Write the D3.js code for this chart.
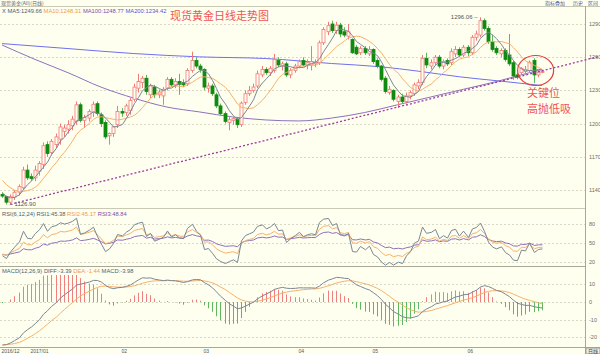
<!DOCTYPE html>
<html>
<head>
<meta charset="utf-8">
<script src="https://cdn.jsdelivr.net/npm/d3@7"></script>
<style>
  body { margin: 0; background: #fffff0; }
  svg { display: block; font-family: "Liberation Sans", "DejaVu Sans", sans-serif; }
</style>
</head>
<body>
<svg id="chart" width="600" height="354"></svg>
<script>
// ---- daily candles (index 0 = first visible day) ----
const openP = [1136,1134,1129,1133.5,1138,1142,1158,1152,1151,1157,
  1163,1181,1174,1181,1186,1193,1195,1198,1202,1217,
  1203,1205,1210,1218,1208,1201,1189,1191,1199,1211,
  1210,1212,1222,1232,1237,1241,1226,1233,1226,1225,
  1232,1240,1235,1238,1237,1236,1248,1257,1252,1249,
  1232,1234,1226,1216,1209,1201,1203,1204,1199,1219,
  1227,1230,1234,1244,1249,1246,1248,1257,1252,1254,
  1244,1248,1252,1257,1253,1253,1254,1255,1273,1283,
  1290,1284,1289,1283,1279,1276,1269,1264,1268,1263,
  1267,1257,1252,1241,1228,1230,1220,1224,1220,1225,
  1227,1234,1237,1259,1252,1255,1260,1252,1257,1255,
  1263,1267,1262,1269,1264,1278,1280,1293,1286,1274,
  1268,1263,1266,1262,1255,1244,1246,1247,1248,1257,
  1244,1246.8];
const highP = [1138,1135,1136,1140,1145,1161,1163,1155,1162,1166,
  1183,1184,1186,1191,1200,1199,1203,1207,1220,1219,
  1208,1213,1220,1220,1210,1203,1192,1198,1216,1214,
  1218,1223,1236,1245,1243,1244,1236,1235,1231,1233,
  1242,1242,1241,1245,1240,1250,1265,1260,1254,1250,
  1237,1236,1228,1218,1211,1207,1206,1205,1220,1230,
  1234,1236,1248,1252,1251,1252,1263,1260,1256,1256,
  1250,1254,1258,1260,1258,1270,1258,1275,1287,1292,
  1293,1292,1291,1287,1290,1277,1271,1270,1270,1270,
  1268,1259,1253,1243,1234,1231,1226,1227,1228,1230,
  1237,1240,1262,1264,1258,1262,1262,1258,1259,1268,
  1270,1269,1271,1271,1280,1284,1296.06,1295,1288,1280,
  1270,1268,1268,1281,1257,1246,1251,1252,1257,1259,
  1248,1248];
const lowP = [1133,1126.9,1127.5,1131,1135,1140,1149,1148,1148,1153,
  1159,1170,1172,1178,1181,1188,1191,1194,1199,1201,
  1196,1202,1206,1207,1197,1186,1181,1188,1196,1206,
  1207,1208,1220,1228,1232,1226,1223,1223,1223,1217,
  1230,1233,1232,1226,1233,1234,1246,1250,1246,1230,
  1228,1225,1214,1207,1200,1194,1199,1196,1197,1217,
  1225,1228,1232,1242,1244,1243,1246,1251,1248,1242,
  1241,1246,1250,1252,1249,1248,1251,1253,1271,1280,
  1282,1281,1278,1278,1276,1263,1262,1262,1262,1261,
  1254,1250,1238,1227,1226,1220,1214,1218,1218,1222,
  1225,1231,1235,1250,1249,1253,1250,1249,1252,1253,
  1260,1260,1260,1261,1262,1275,1278,1284,1272,1265,
  1262,1260,1256,1252,1239.6,1240,1244,1244,1246,1236.6,
  1242,1245.5];
const closeP = [1134.5,1129,1134,1138,1143,1158,1151,1150.5,1158,1164,
  1180,1173,1184,1188,1197,1196,1199,1204,1217,1203,
  1205.5,1211,1217.5,1209,1200,1188,1191,1197,1211,1209.5,
  1216,1221,1233,1238,1241,1229,1234,1226,1228.5,1231,
  1240,1235,1238,1235.5,1235,1248,1257,1252,1249,1233,
  1234,1227,1216,1209,1202,1203.5,1204.5,1199,1218.5,1227,
  1230,1233,1245,1249,1246,1250,1258,1253,1254,1244,
  1248,1252,1256,1253,1255,1256,1255.5,1273,1285,1288.5,
  1284,1289,1281,1280,1283,1264,1263,1268,1264,1267,
  1256,1252,1240,1229,1231,1222,1224,1220,1225,1228,
  1235,1237,1259,1253,1255,1260,1252,1256,1254,1265,
  1267,1262,1269,1264,1278,1281,1293,1286,1274,1267,
  1264,1266,1258,1254,1243,1242,1250,1249,1255.5,1244,
  1246.5,1247];

// closes just before the window (warm-up for MA5 / MA10), estimated
const priorCloses = [1170,1161,1159,1159,1152,1145,1140,1136,1131];
// indicator states at the left edge, estimated from the lower panels
const macdSeed = { ema12: 1150, ema26: 1175, dea: -24 };
const rsiSeed = { 6: [1.6, 7], 12: [2.4, 8], 24: [2.6, 8.5] };

// long moving averages (index, value)
const ma100Idx = [0, 8, 16, 24, 32, 40, 48, 56, 64, 72, 80, 88, 96, 104, 112, 120, 128, 131];
const ma100Val = [1271, 1258, 1246, 1233, 1223, 1215, 1210.5, 1206, 1203.3, 1202.4, 1205, 1210, 1217, 1224, 1231, 1238, 1246, 1248.8];
const ma200Idx = [0, 16, 32, 48, 64, 80, 92, 101, 111, 121, 131];
const ma200Val = [1272.3, 1267.8, 1263.3, 1260.3, 1258.8, 1254.3, 1251.3, 1247.4, 1242.3, 1238.4, 1234.4];

// trend line (dotted, runs out to the right edge) and the circled zone
const trendIdx = [2, 145];
const trendVal = [1127, 1260.7];
const circleIdx = 130, circleVal = 1248;

const monthIdx = [0, 7, 29, 49, 72, 90, 113];
const monthLbl = ["2016/12", "2017/01", "02", "03", "04", "05", "06"];

const priceTicks = [1290, 1260, 1230, 1200, 1170, 1140];
const rsiTicks = [80, 50, 20];
const macdTicks = [10, 0, -10, -20];

const slots = 142; // candle slots across the plot width

// ---- derived indicators ----
const allC = priorCloses.concat(closeP);
const np = priorCloses.length;
function ma(n) {
  return closeP.map((c, i) => d3.mean(allC.slice(Math.max(0, i + np - n + 1), i + np + 1)));
}
const ma5 = ma(5), ma10 = ma(10);

function rsi(n) {
  let up = rsiSeed[n][0], ab = rsiSeed[n][1], prev = priorCloses[np - 1];
  return closeP.map(c => {
    const d = c - prev; prev = c;
    up += (Math.max(d, 0) - up) / n;
    ab += (Math.abs(d) - ab) / n;
    return 100 * up / ab;
  });
}
const rsi6 = rsi(6), rsi12 = rsi(12), rsi24 = rsi(24);

let e12 = macdSeed.ema12, e26 = macdSeed.ema26, dea = macdSeed.dea;
const macd = closeP.map(c => {
  e12 += (c - e12) * 2 / 13;
  e26 += (c - e26) * 2 / 27;
  const diff = e12 - e26;
  dea += (diff - dea) * 2 / 10;
  return { diff: diff, dea: dea, bar: 2 * (diff - dea) };
});

// ---- layout ----
const svg = d3.select("#chart");
const plotR = 585;
const x = d3.scaleBand().domain(d3.range(slots)).range([0, plotR]);
const cx = i => Math.round(x(i) + x.bandwidth() / 2) + 0.5;
const xl = d3.scaleLinear().domain([-0.5, slots - 0.5]).range([0, plotR]);

const yP = d3.scaleLinear().domain([1140, 1290]).range([190, 24]);
const yR = d3.scaleLinear().domain([20, 80]).range([262, 224]);
const yM = d3.scaleLinear().domain([-20, 10]).range([337.4, 284.3]);

const bg = "#fffff0";
svg.append("rect").attr("width", 600).attr("height", 354).attr("fill", bg);

// clip regions
const defs = svg.append("defs");
[["cMain", 8, 208, plotR], ["cWide", 8, 208, 600], ["cRsi", 217, 266, plotR], ["cMacd", 275, 347, plotR]].forEach(d => {
  defs.append("clipPath").attr("id", d[0]).append("rect")
    .attr("x", 0).attr("y", d[1]).attr("width", d[3]).attr("height", d[2] - d[1]);
});

// frame lines
const frame = svg.append("g").attr("stroke", "#c9c9b6").attr("stroke-width", 1);
frame.append("line").attr("x1", 0).attr("x2", 600).attr("y1", 6.5).attr("y2", 6.5);
frame.append("line").attr("x1", 0).attr("x2", plotR).attr("y1", 208.5).attr("y2", 208.5);
frame.append("line").attr("x1", 0).attr("x2", plotR).attr("y1", 266.5).attr("y2", 266.5).attr("stroke", "#a8a898");
frame.append("line").attr("x1", 0).attr("x2", 600).attr("y1", 347.5).attr("y2", 347.5).attr("stroke", "#a8a898");
frame.append("line").attr("x1", plotR + 0.5).attr("x2", plotR + 0.5).attr("y1", 6).attr("y2", 354).attr("stroke", "#a8a898");

// grid lines + right labels
function grid(ticks, scale) {
  const g = svg.append("g");
  g.selectAll("line").data(ticks).join("line")
    .attr("x1", 0).attr("x2", plotR)
    .attr("y1", d => Math.round(scale(d)) + 0.5).attr("y2", d => Math.round(scale(d)) + 0.5)
    .attr("stroke", "#d9d9c6").attr("stroke-dasharray", "2,2");
  g.selectAll("text").data(ticks).join("text")
    .attr("x", 589).attr("y", d => scale(d) + 2)
    .attr("font-size", 5.5).attr("fill", "#6b6b6b")
    .text(d => d);
}
grid(priceTicks, yP);
grid(rsiTicks, yR);
grid(macdTicks, yM);

// ---- main panel ----
const main = svg.append("g").attr("clip-path", "url(#cMain)");
const idx = d3.range(closeP.length);

const lineOf = (arr, ys) => d3.line().x((d, i) => cx(i)).y(d => ys(d))(arr);
const lineXY = (xs, vs, ys) => d3.line().curve(d3.curveMonotoneX)
  .x(d => xl(d)).y((d, k) => ys(vs[k]))(xs);

main.append("path").attr("d", lineXY(ma200Idx, ma200Val, yP))
  .attr("fill", "none").attr("stroke", "#6f6ff0").attr("stroke-width", 1);
main.append("path").attr("d", lineXY(ma100Idx, ma100Val, yP))
  .attr("fill", "none").attr("stroke", "#8d70bd").attr("stroke-width", 1);

// trend line
svg.append("line").attr("clip-path", "url(#cWide)")
  .attr("x1", xl(trendIdx[0])).attr("y1", yP(trendVal[0]))
  .attr("x2", xl(trendIdx[1])).attr("y2", yP(trendVal[1]))
  .attr("stroke", "#a2399f").attr("stroke-width", 1.3).attr("stroke-dasharray", "2,2");

// candles
const candles = main.append("g");
candles.selectAll("line").data(idx).join("line")
  .attr("x1", i => cx(i)).attr("x2", i => cx(i))
  .attr("y1", i => yP(highP[i])).attr("y2", i => yP(lowP[i]))
  .attr("stroke", i => closeP[i] >= openP[i] ? "#f07a7a" : "#5fb85f");
candles.selectAll("rect").data(idx).join("rect")
  .attr("x", i => cx(i) - 1.5)
  .attr("y", i => yP(Math.max(openP[i], closeP[i])))
  .attr("width", 3)
  .attr("height", i => Math.max(1, Math.abs(yP(openP[i]) - yP(closeP[i]))))
  .attr("fill", i => closeP[i] >= openP[i] ? bg : "#108a10")
  .attr("stroke", i => closeP[i] >= openP[i] ? "#f07a7a" : "#108a10")
  .attr("stroke-width", 0.8);

main.append("path").attr("d", lineOf(ma10, yP))
  .attr("fill", "none").attr("stroke", "#f7b06a").attr("stroke-width", 1);
main.append("path").attr("d", lineOf(ma5, yP))
  .attr("fill", "none").attr("stroke", "#7a8794").attr("stroke-width", 1);

// high / low markers
const hiI = d3.maxIndex(highP), loI = d3.minIndex(lowP);
svg.append("text").attr("x", cx(hiI) - 3).attr("y", yP(highP[hiI]) + 2)
  .attr("text-anchor", "end").attr("font-size", 6).attr("fill", "#555")
  .text(highP[hiI].toFixed(2) + " \u2013");
svg.append("text").attr("x", cx(loI) + 3).attr("y", yP(lowP[loI]) + 2)
  .attr("font-size", 6).attr("fill", "#555")
  .text("\u2013 " + lowP[loI].toFixed(2));

// annotation
svg.append("ellipse").attr("cx", xl(circleIdx) - 2).attr("cy", yP(circleVal))
  .attr("rx", 18).attr("ry", 15)
  .attr("fill", "none").attr("stroke", "#e63d3d").attr("stroke-width", 1.2);
const cjk = '"Noto Sans CJK SC", sans-serif';
svg.append("text").attr("x", 527).attr("y", 97).attr("font-family", cjk)
  .attr("font-size", 11).attr("fill", "#f05555").text("关键位");
svg.append("text").attr("x", 527).attr("y", 113).attr("font-family", cjk)
  .attr("font-size", 11).attr("fill", "#f05555").text("高抛低吸");
svg.append("text").attr("x", 170).attr("y", 20).attr("font-family", cjk)
  .attr("font-size", 11).attr("fill", "#f05555").text("现货黄金日线走势图");

// header texts
function header(y, parts) {
  const t = svg.append("text").attr("x", 2).attr("y", y).attr("font-size", 5.8);
  parts.forEach(p => t.append("tspan").attr("fill", p[1]).text(p[0] + "  "));
}
svg.append("text").attr("x", 1).attr("y", 5).attr("font-size", 5).attr("font-family", cjk)
  .attr("fill", "#666").text("现货黄金(All)(日线)");
header(13, [["X MA5:1249.66", "#4f5d70"], ["MA10:1248.31", "#f39a3c"], ["MA100:1248.77", "#7b4fae"], ["MA200:1234.42", "#5555e0"]]);
header(216, [["RSI(6,12,24) RSI1:45.38", "#4f5d70"], ["RSI2:45.17", "#f39a3c"], ["RSI3:48.84", "#7b4fae"]]);
header(273, [["MACD(12,26,9) DIFF:-3.39", "#4f5d70"], ["DEA:-1.44", "#f39a3c"], ["MACD:-3.98", "#4f5d70"]]);

// top right buttons
[["指标叠加", 545], ["历史", 573], ["区间", 588]].forEach(b => {
  svg.append("text").attr("x", b[1]).attr("y", 5).attr("font-size", 5)
    .attr("font-family", cjk).attr("fill", "#4a5f9a").text(b[0]);
});

// ---- RSI panel ----
const rsiG = svg.append("g").attr("clip-path", "url(#cRsi)").attr("fill", "none").attr("stroke-width", 1);
rsiG.append("path").attr("d", lineOf(rsi24, yR)).attr("stroke", "#8d70bd");
rsiG.append("path").attr("d", lineOf(rsi12, yR)).attr("stroke", "#f7b06a");
rsiG.append("path").attr("d", lineOf(rsi6, yR)).attr("stroke", "#7a8794");

// ---- MACD panel ----
const macdG = svg.append("g").attr("clip-path", "url(#cMacd)");
macdG.selectAll("line").data(macd).join("line")
  .attr("x1", (d, i) => cx(i)).attr("x2", (d, i) => cx(i))
  .attr("y1", yM(0)).attr("y2", d => yM(d.bar))
  .attr("stroke", d => d.bar >= 0 ? "#f08080" : "#5fb85f");
macdG.append("path").attr("d", d3.line().x((d, i) => cx(i)).y(d => yM(d.dea))(macd))
  .attr("fill", "none").attr("stroke", "#f7b06a");
macdG.append("path").attr("d", d3.line().x((d, i) => cx(i)).y(d => yM(d.diff))(macd))
  .attr("fill", "none").attr("stroke", "#7a8794");

// ---- date labels ----
svg.append("g").selectAll("text").data(monthIdx).join("text")
  .attr("x", i => cx(i) - 1).attr("y", 353)
  .attr("font-size", 5).attr("fill", "#555")
  .text((d, k) => monthLbl[k]);
svg.append("rect").attr("x", 586).attr("y", 348).attr("width", 14).attr("height", 6)
  .attr("fill", "#eeeee0").attr("stroke", "#999");
svg.append("text").attr("x", 588).attr("y", 353).attr("font-size", 5)
  .attr("font-family", cjk).attr("fill", "#444").text("日线");
</script>
</body>
</html>
